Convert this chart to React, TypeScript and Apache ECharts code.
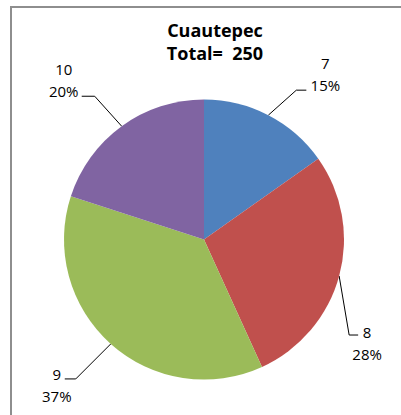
import React, { useEffect, useRef } from 'react';
import * as echarts from 'echarts';

// ---- data ----
const categories = ['7', '8', '9', '10'];
const counts = [38, 70, 92, 50];
const titleLines = ['Cuautepec', 'Total=  250'];

// ---- styles ----
const sliceColors = ['#4F81BD', '#C0504D', '#9BBB59', '#8064A2'];
// leader-line shape per slice: elbow offset from slice edge point, horizontal run, label offset from line end
const leaderStyles = [
  { ex: 28, ey: -25, run: 10, lx: 19, ly: -16 },
  { ex: 10, ey: 59, run: 9, lx: 9, ly: 7.5 },
  { ex: -35, ey: 35, run: 11, lx: -8, ly: 6 },
  { ex: -27, ey: -30, run: 13, lx: -18, ly: -16 },
];

export default function App() {
  const ref = useRef<HTMLDivElement>(null);
  useEffect(() => {
    if (!ref.current) return;
    const chart = echarts.init(ref.current, null, { renderer: 'svg' });
    const option: any = {
      animation: false,
      backgroundColor: '#ffffff',
      title: {
        text: titleLines[0],
        subtext: titleLines[1],
        left: 210,
        top: 14,
        itemGap: 2,
        textAlign: 'center',
        textStyle: {
          fontFamily: 'Open Sans',
          fontWeight: 'bold',
          fontSize: 18,
          lineHeight: 21,
          color: '#000',
        },
        subtextStyle: {
          fontFamily: 'Open Sans',
          fontWeight: 'bold',
          fontSize: 18,
          lineHeight: 21,
          color: '#000',
        },
      },
      graphic: [
        {
          type: 'rect',
          silent: true,
          shape: { x: 11, y: 7, width: 600, height: 600 },
          style: { fill: 'none', stroke: '#8e8e8e', lineWidth: 2 },
        },
      ],
      series: [
        {
          type: 'pie',
          center: [204, 239.5],
          radius: 140,
          startAngle: 90,
          clockwise: true,
          percentPrecision: 0,
          avoidLabelOverlap: false,
          emphasis: { disabled: true },
          data: categories.map((c, i) => ({
            name: c,
            value: counts[i],
            itemStyle: { color: sliceColors[i] },
          })),
          label: {
            show: true,
            position: 'outside',
            formatter: '{b}\n{d}%',
            fontFamily: 'Open Sans',
            fontSize: 15,
            lineHeight: 22,
            color: '#000',
          },
          labelLine: {
            show: true,
            length: 20,
            length2: 10,
            lineStyle: { color: '#000', width: 1 },
          },
          labelLayout: (p: any) => {
            const s = leaderStyles[p.dataIndex];
            const pts = p.labelLinePoints;
            if (!pts || !s) return {};
            const [x1, y1] = pts[0];
            const x2 = x1 + s.ex;
            const y2 = y1 + s.ey;
            const side = s.ex >= 0 ? 1 : -1;
            const x3 = x2 + side * s.run;
            return {
              x: x3 + s.lx,
              y: y2 + s.ly,
              align: 'center',
              verticalAlign: 'middle',
              labelLinePoints: [
                [x1, y1],
                [x2, y2],
                [x3, y2],
              ],
            };
          },
        },
      ],
    };
    chart.setOption(option);
    return () => chart.dispose();
  }, []);
  return (
    <div
      ref={ref}
      style={{ position: 'absolute', left: 0, top: 0, width: 401, height: 415 }}
    />
  );
}
